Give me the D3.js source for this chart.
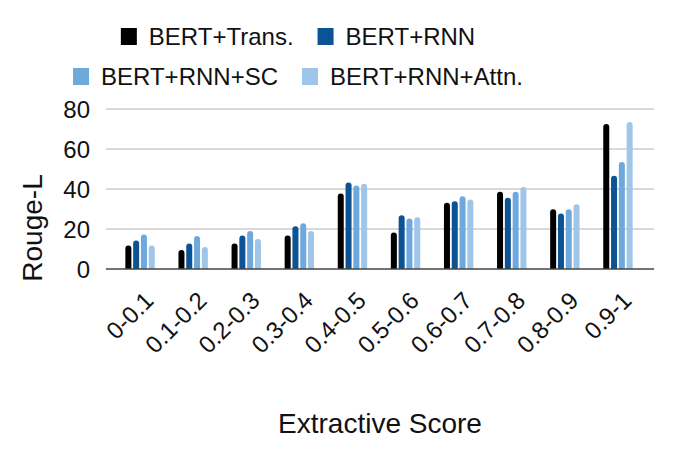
<!DOCTYPE html>
<html>
<head>
<meta charset="utf-8">
<script src="https://cdn.jsdelivr.net/npm/d3@7"></script>
<style>
  body { margin: 0; background: #fff; }
  svg { font-family: "Liberation Sans", Arial, Helvetica, sans-serif; }
</style>
</head>
<body>
<div id="chart"></div>
<script>
  // data
  const categories = ["0-0.1", "0.1-0.2", "0.2-0.3", "0.3-0.4", "0.4-0.5",
    "0.5-0.6", "0.6-0.7", "0.7-0.8", "0.8-0.9", "0.9-1"];
  const seriesNames = ["BERT+Trans.", "BERT+RNN", "BERT+RNN+SC", "BERT+RNN+Attn."];
  const bertTrans = [11.8, 9.5, 12.7, 16.7, 37.8, 18.2, 33.1, 38.6, 29.9, 72.5];
  const bertRnn = [14.3, 12.7, 16.7, 21.4, 43.3, 26.9, 33.9, 35.6, 27.7, 46.6];
  const bertRnnSc = [17.3, 16.5, 19.0, 22.9, 41.8, 25.2, 36.4, 38.6, 29.9, 53.5];
  const bertRnnAttn = [11.8, 11.0, 15.0, 19.0, 42.6, 25.9, 34.8, 41.0, 32.4, 73.5];
  const yTicks = [0, 20, 40, 60, 80];
  const colors = ["#000000", "#0b5394", "#6fa8dc", "#9fc5e8"];

  const seriesValues = [bertTrans, bertRnn, bertRnnSc, bertRnnAttn];
  const rows = categories.map((c, i) => {
    const r = { cat: c };
    seriesNames.forEach((s, j) => r[s] = seriesValues[j][i]);
    return r;
  });

  const width = 677, height = 468;
  const svg = d3.select("#chart").append("svg")
    .attr("width", width)
    .attr("height", height);

  const x0 = d3.scaleBand().domain(categories).range([113.5, 644.5]);
  const x1 = d3.scaleBand().domain(seriesNames).range([-14.7, 14.7]).paddingInner(0.23);
  const y = d3.scaleLinear().domain([0, 80]).range([269, 109]);
  const color = d3.scaleOrdinal().domain(seriesNames).range(colors);

  // gridlines
  svg.append("g")
    .selectAll("line")
    .data(yTicks.filter(d => d > 0))
    .join("line")
    .attr("x1", 106).attr("x2", 654)
    .attr("y1", d => y(d)).attr("y2", d => y(d))
    .attr("stroke", "#cccccc")
    .attr("stroke-width", 1.5);

  // y axis labels
  svg.append("g")
    .selectAll("text")
    .data(yTicks)
    .join("text")
    .attr("x", 90)
    .attr("y", d => y(d))
    .attr("dy", "0.36em")
    .attr("text-anchor", "end")
    .attr("font-size", 24)
    .attr("fill", "#111")
    .text(d => d);

  // bars with rounded tops
  function barPath(xl, w, top, bottom) {
    const r = Math.min(w / 2, bottom - top);
    return `M${xl},${bottom}V${top + r}A${r},${r} 0 0 1 ${xl + r},${top}` +
      `H${xl + w - r}A${r},${r} 0 0 1 ${xl + w},${top + r}V${bottom}Z`;
  }

  const groups = svg.append("g")
    .selectAll("g")
    .data(rows)
    .join("g")
    .attr("transform", d => `translate(${x0(d.cat) + x0.bandwidth() / 2},0)`);

  groups.selectAll("path")
    .data(d => seriesNames.map(s => ({ key: s, value: d[s] })))
    .join("path")
    .attr("d", d => barPath(x1(d.key), x1.bandwidth(), y(d.value), y(0)))
    .attr("fill", d => color(d.key));

  // baseline
  svg.append("line")
    .attr("x1", 106).attr("x2", 654)
    .attr("y1", y(0)).attr("y2", y(0))
    .attr("stroke", "#444")
    .attr("stroke-width", 1.5);

  // x labels, rotated
  svg.append("g")
    .selectAll("text")
    .data(categories)
    .join("text")
    .attr("transform", d => `translate(${x0(d) + x0.bandwidth() / 2 + 15},302) rotate(-45)`)
    .attr("text-anchor", "end")
    .attr("font-size", 24)
    .attr("fill", "#111")
    .text(d => d);

  // axis titles
  svg.append("text")
    .attr("x", 380)
    .attr("y", 433)
    .attr("text-anchor", "middle")
    .attr("font-size", 28)
    .attr("fill", "#111")
    .text("Extractive Score");

  svg.append("text")
    .attr("transform", "translate(42,228) rotate(-90)")
    .attr("text-anchor", "middle")
    .attr("font-size", 28)
    .attr("fill", "#111")
    .text("Rouge-L");

  // legend, two centered rows
  const legendRows = [[0, 1], [2, 3]];
  const legendBase = [45, 85];
  const legendCenter = 298;
  legendRows.forEach((idx, ri) => {
    const g = svg.append("g");
    const items = idx.map(i => {
      const it = g.append("g");
      it.append("rect")
        .attr("width", 16).attr("height", 17)
        .attr("y", legendBase[ri] - 17)
        .attr("fill", colors[i]);
      const t = it.append("text")
        .attr("x", 28)
        .attr("y", legendBase[ri])
        .attr("font-size", 24)
        .attr("fill", "#111")
        .text(seriesNames[i]);
      return { g: it, w: 28 + t.node().getComputedTextLength() };
    });
    const gap = 24;
    const total = d3.sum(items, d => d.w) + gap * (items.length - 1);
    let xx = legendCenter - total / 2;
    items.forEach(it => {
      it.g.attr("transform", `translate(${xx},0)`);
      xx += it.w + gap;
    });
  });
</script>
</body>
</html>
